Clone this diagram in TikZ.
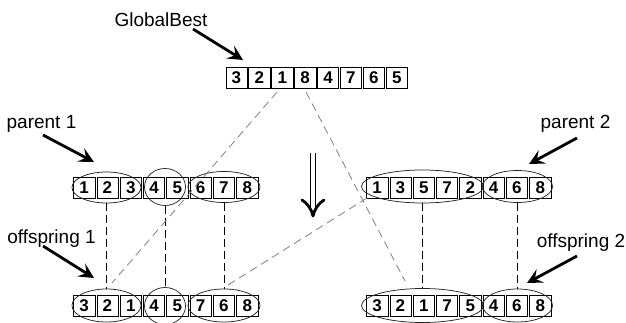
\documentclass[tikz,border=0pt]{standalone}
\usepackage{fontspec}
\setmainfont{Liberation Sans}
\usetikzlibrary{arrows.meta,shapes.geometric}

\begin{document}
\begin{tikzpicture}[x=1pt,y=-1pt,
  cell/.style={draw, line width=0.6pt, minimum width=21.3pt, minimum height=21pt,
    inner sep=0pt, font=\bfseries\fontsize{17}{17}\selectfont},
  group/.style={draw=black!85, ellipse, line width=0.75pt, inner sep=0pt},
  tag/.style={font=\fontsize{19}{20}\selectfont, anchor=base, inner sep=0pt},
  pointer/.style={line width=2.8pt, -{Stealth[length=15pt,width=15pt,inset=6pt]}},
  crossline/.style={draw=black!50, dash pattern=on 8pt off 5pt, line width=0.8pt},
  copyline/.style={dash pattern=on 8pt off 4pt, line width=0.75pt}]

\useasboundingbox (0,0) rectangle (626,323);

% GlobalBest chromosome
\foreach \d [count=\i] in {3,2,1,8,4,7,6,5}
  \node[cell] (g\i) at ({236.45+(\i-1)*22.9},78) {\d};

% parent 1 and offspring 1
\foreach \d [count=\i] in {1,2,3,4,5,6,7,8}
  \node[cell] (pa\i) at ({84.15+(\i-1)*23.3},187.5) {\d};
\foreach \d [count=\i] in {3,2,1,4,5,7,6,8}
  \node[cell] (oa\i) at ({84.15+(\i-1)*23.3},306) {\d};

% parent 2 and offspring 2
\foreach \d [count=\i] in {1,3,5,7,2,4,6,8}
  \node[cell] (pb\i) at ({377.15+(\i-1)*23.3},187.5) {\d};
\foreach \d [count=\i] in {3,2,1,7,5,4,6,8}
  \node[cell] (ob\i) at ({377.15+(\i-1)*23.3},306) {\d};

% gene segments
\node[group, minimum width=69pt, minimum height=31pt] (pae1) at (106.5,187.5) {};
\node[group, minimum width=41pt, minimum height=37pt] (pae2) at (165,187) {};
\node[group, minimum width=72pt, minimum height=31pt] (pae3) at (224,187) {};
\node[group, minimum width=69pt, minimum height=33pt] (oae1) at (106.5,305.5) {};
\node[group, minimum width=41pt, minimum height=37pt] (oae2) at (165,306) {};
\node[group, minimum width=72pt, minimum height=33pt] (oae3) at (224,305.5) {};

\node[group, minimum width=122pt, minimum height=33pt] (pbe1) at (422.5,186.5) {};
\node[group, minimum width=70pt, minimum height=32pt] (pbe2) at (517.5,186.5) {};
\node[group, minimum width=122pt, minimum height=34pt] (obe1) at (422.5,305.5) {};
\node[group, minimum width=70pt, minimum height=33pt] (obe2) at (517.5,305.5) {};

% inherited segments
\draw[copyline] (pae1.south) -- (oae1.north);
\draw[copyline] (pae2.south) -- (oae2.north);
\draw[copyline] (pae3.south) -- (oae3.north);
\draw[copyline] (pbe1.south) -- (obe1.north);
\draw[copyline] (pbe2.south) -- (obe2.north);

% crossover links
\coordinate (xa1) at (277,92);
\coordinate (xa2) at (112,283);
\coordinate (xb1) at (306,92);
\coordinate (xb2) at (405,281);
\coordinate (xc1) at (228,285);
\coordinate (xc2) at (367,198);
\draw[crossline] (xa1) -- (xa2);
\draw[crossline] (xb1) -- (xb2);
\draw[crossline] (xc1) -- (xc2);

% labels and pointers
\node[tag] (lg) at (161,27) {GlobalBest};
\node[tag] (lp1) at (41.5,129) {parent 1};
\node[tag] (lp2) at (575.5,129) {parent 2};
\node[tag] (lo1) at (51.5,243) {offspring 1};
\node[tag] (lo2) at (581,247) {offspring 2};

\coordinate (tg) at (243,60);
\coordinate (tp1) at (94,162);
\coordinate (tp2) at (529,164);
\coordinate (to1) at (94,278);
\coordinate (to2) at (527,283);
\draw[pointer] (193,29) -- (tg);
\draw[pointer] (43,135) -- (tp1);
\draw[pointer] (577,138) -- (tp2);
\draw[pointer] (43,246) -- (to1);
\draw[pointer] (577,256) -- (to2);

% generation arrow
\coordinate (da) at (313,153);
\coordinate (db) at (313,210);
\coordinate (dt) at (313,216);
\draw[double, double distance=3.4pt, line width=1.2pt] (da) -- (db);
\draw[line width=2.8pt, line join=round, line cap=round]
  (302,200) .. controls (307.5,203.5) and (311.5,209) .. (dt)
  .. controls (314.5,209) and (318.5,203.5) .. (324,200);
\end{tikzpicture}
\end{document}
